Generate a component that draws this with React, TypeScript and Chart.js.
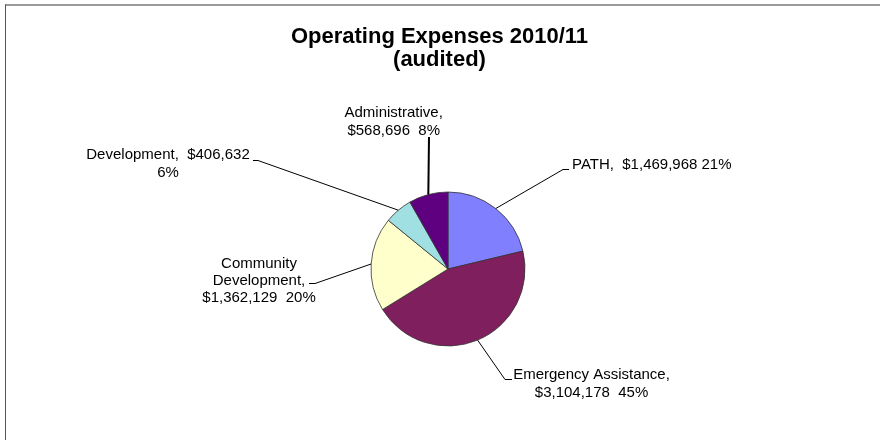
import React, { useEffect, useRef } from "react";
import { Chart, registerables } from "chart.js";

Chart.register(...registerables);

const TITLE_LINES = ["Operating Expenses 2010/11", "(audited)"];
const CATEGORIES = ["PATH", "Emergency Assistance", "Community Development", "Development", "Administrative"];
const VALUES = [1469968, 3104178, 1362129, 406632, 568696];
const COLORS = ["#8080FF", "#7F1F5E", "#FFFFCC", "#A0E0E2", "#5F0080"];

// label layout: templates, anchor (x, first baseline), alignment, leader elbow
const LABEL_LAYOUT = [
  { lines: ["{name},  {value} {pct}"], x: 572, y: 169.3, align: "left", elbow: [563, 169.5, 569, 169.5] },
  { lines: ["{name},", "{value}  {pct}"], x: 591.5, y: 379.3, align: "center", elbow: [505, 379.5, 512, 379.5] },
  { lines: ["{w0}", "{w1},", "{value}  {pct}"], x: 259, y: 268, align: "center", elbow: [315, 283.5, 309, 283.5] },
  { lines: ["{name},  {value}", "{pct}"], x: 168, y: 159.3, align: "center", elbow: [258, 160.5, 253, 160.5] },
  { lines: ["{name},", "{value}  {pct}"], x: 393.7, y: 117.3, align: "center", elbow: [429, 137, 429, 137] },
];

const FONT = '"Liberation Sans", Arial, sans-serif';

function fmtMoney(v: number) {
  return "$" + v.toLocaleString("en-US");
}

const overlay = {
  id: "overlay",
  afterDraw(chart: any) {
    const ctx = chart.ctx as CanvasRenderingContext2D;
    ctx.save();
    // frame
    ctx.strokeStyle = "#9a9a9a";
    ctx.lineWidth = 2;
    ctx.beginPath();
    ctx.moveTo(5, 5);
    ctx.lineTo(880, 5);
    ctx.stroke();
    ctx.strokeStyle = "#555";
    ctx.lineWidth = 1;
    ctx.beginPath();
    ctx.moveTo(5.5, 4.5);
    ctx.lineTo(5.5, 440);
    ctx.stroke();

    // title
    ctx.fillStyle = "#000";
    ctx.textAlign = "center";
    ctx.textBaseline = "alphabetic";
    ctx.font = `bold 22px ${FONT}`;
    TITLE_LINES.forEach((t, i) => ctx.fillText(t, 439.5, 42.5 + i * 23));

    // labels + leaders
    const meta = chart.getDatasetMeta(0);
    const total = VALUES.reduce((a, b) => a + b, 0);
    ctx.font = `15px ${FONT}`;
    meta.data.forEach((arc: any, i: number) => {
      const L = LABEL_LAYOUT[i];
      const mid = (arc.startAngle + arc.endAngle) / 2;
      const ex = arc.x + Math.cos(mid) * arc.outerRadius;
      const ey = arc.y + Math.sin(mid) * arc.outerRadius;
      ctx.strokeStyle = "#000";
      ctx.lineWidth = i === 4 ? 2 : 1;
      ctx.beginPath();
      ctx.moveTo(ex, ey);
      ctx.lineTo(L.elbow[0], L.elbow[1]);
      ctx.lineTo(L.elbow[2], L.elbow[3]);
      ctx.stroke();

      const words = CATEGORIES[i].split(" ");
      const pct = Math.round((VALUES[i] / total) * 100) + "%";
      ctx.fillStyle = "#000";
      ctx.textAlign = L.align as CanvasTextAlign;
      L.lines.forEach((tpl, j) => {
        const s = tpl
          .replace("{name}", CATEGORIES[i])
          .replace("{w0}", words[0])
          .replace("{w1}", words[1] || "")
          .replace("{value}", fmtMoney(VALUES[i]))
          .replace("{pct}", pct);
        ctx.fillText(s, L.x, L.y + j * 17.2);
      });
    });
    ctx.restore();
  },
};

export default function App() {
  const ref = useRef<HTMLCanvasElement | null>(null);
  useEffect(() => {
    if (!ref.current) return;
    const chart = new Chart(ref.current, {
      type: "pie",
      data: {
        labels: CATEGORIES,
        datasets: [
          {
            data: VALUES,
            backgroundColor: COLORS,
            borderColor: "#333",
            borderWidth: 0.8,
            radius: 77,
          } as any,
        ],
      },
      options: {
        responsive: false,
        animation: false,
        layout: { padding: { left: 300, right: 284, top: 192, bottom: 97 } },
        plugins: {
          legend: { display: false },
          tooltip: { enabled: false },
          title: { display: false },
        },
      },
      plugins: [overlay],
    });
    return () => chart.destroy();
  }, []);
  return (
    <div style={{ position: "absolute", left: 0, top: 0, width: 880, height: 443, background: "#fff" }}>
      <canvas ref={ref} width={880} height={443} style={{ width: 880, height: 443 }} />
    </div>
  );
}
